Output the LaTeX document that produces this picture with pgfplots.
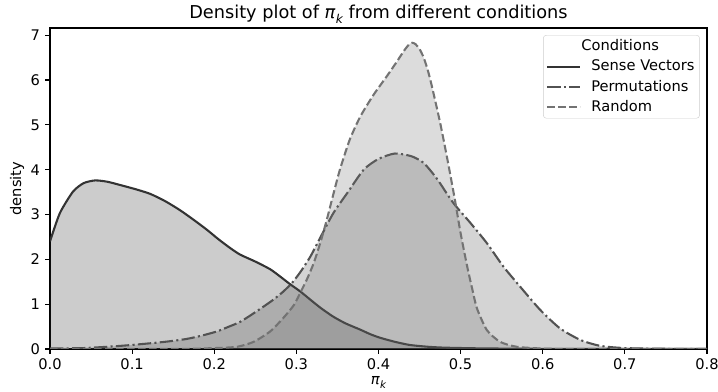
\documentclass[border=0pt]{standalone}
\usepackage{fontspec}
\setmainfont{DejaVu Sans}
\usepackage{pgfplots}
\usepackage{pgfplotstable}
\pgfplotsset{compat=1.18}
\definecolor{csense}{gray}{0.2}
\definecolor{cperm}{gray}{0.32}
\definecolor{crand}{gray}{0.45}
\newcommand{\pik}[1]{\mbox{\itshape π\kern0.03em\raisebox{-0.28em}{\fontsize{#1}{#1}\selectfont k}}}

\pgfplotstableread{
x y
0 2.40
0.012 3.03
0.028 3.51
0.041 3.70
0.055 3.76
0.07 3.73
0.089 3.64
0.105 3.56
0.122 3.46
0.14 3.30
0.158 3.10
0.175 2.88
0.191 2.66
0.205 2.45
0.218 2.27
0.231 2.11
0.25 1.95
0.268 1.78
0.28 1.62
0.292 1.45
0.305 1.28
0.317 1.10
0.33 0.91
0.345 0.72
0.36 0.57
0.378 0.43
0.39 0.33
0.402 0.25
0.42 0.16
0.438 0.09
0.46 0.05
0.48 0.03
0.52 0.015
0.56 0.008
0.6 0.004
0.7 0.001
0.8 0
}\sensetab

\pgfplotstableread{
x y
0 0.01
0.04 0.02
0.07 0.05
0.10 0.09
0.14 0.16
0.165 0.22
0.183 0.29
0.203 0.39
0.218 0.50
0.231 0.60
0.245 0.76
0.258 0.92
0.272 1.10
0.284 1.28
0.295 1.48
0.305 1.72
0.317 2.06
0.329 2.48
0.345 3.03
0.362 3.48
0.382 4.00
0.40 4.24
0.42 4.36
0.44 4.30
0.455 4.15
0.471 3.80
0.491 3.26
0.512 2.81
0.532 2.36
0.552 1.84
0.572 1.40
0.597 0.87
0.621 0.46
0.646 0.20
0.67 0.07
0.70 0.02
0.75 0.005
0.8 0.0
}\permtab

\pgfplotstableread{
x y
0 0
0.15 0.0
0.2 0.02
0.228 0.05
0.248 0.16
0.268 0.39
0.284 0.69
0.297 0.98
0.306 1.30
0.313 1.56
0.321 1.91
0.329 2.36
0.337 2.88
0.345 3.45
0.353 4.00
0.365 4.67
0.378 5.19
0.394 5.67
0.41 6.08
0.422 6.40
0.431 6.65
0.437 6.79
0.441 6.83
0.445 6.80
0.450 6.69
0.455 6.50
0.460 6.22
0.465 5.86
0.475 5.05
0.484 4.22
0.493 3.33
0.500 2.58
0.508 1.84
0.514 1.35
0.52 0.90
0.532 0.42
0.548 0.16
0.568 0.05
0.6 0.01
0.65 0.0
0.8 0.0
}\randtab

\begin{document}
\fontsize{14.7}{17}\selectfont
\begin{tikzpicture}
\begin{axis}[
  name=ax,
  scale only axis, width=657bp, height=321bp,
  xmin=0, xmax=0.8, ymin=0, ymax=7.16,
  xtick={0,0.1,0.2,0.3,0.4,0.5,0.6,0.7,0.8},
  ytick={0,1,2,3,4,5,6,7},
  xticklabel style={/pgf/number format/.cd, fixed, fixed zerofill, precision=1},
  /pgf/number format/assume math mode=true,
  tick pos=left, tick align=outside, major tick length=4.9bp,
  every tick/.style={black, line width=1.1bp},
  axis line style={line width=1.1bp, black},
  ticklabel style={font=\fontsize{14.7}{17}\selectfont},
  title={Density plot of \pik{12.2} from different conditions},
  title style={font=\fontsize{17.8}{20}\selectfont, at={(rel axis cs:0.5,1.025)}, anchor=center},
  xlabel={\pik{10.3}}, ylabel={density},
  every axis x label/.style={at={(rel axis cs:0.5,-0.0704)}, anchor=north, font=\fontsize{14.7}{17}\selectfont},
  every axis y label/.style={at={(rel axis cs:-0.0502,0.5)}, rotate=90, anchor=center, font=\fontsize{14.7}{17}\selectfont},
  legend style={at={(rel axis cs:0.989,0.978)}, anchor=north east, draw=gray!40, fill=white, fill opacity=0.8, text opacity=1, rounded corners=3bp, font=\fontsize{14.7}{17}\selectfont, row sep=3bp, inner xsep=3bp, inner ysep=2.5bp,
    /tikz/every odd column/.append style={column sep=8bp}},
  legend cell align=left,
  legend image code/.code={\draw[#1] (0bp,0bp) -- (33bp,0bp);},
]
\addlegendimage{empty legend}
\addlegendentry{\hspace*{-10bp}Conditions}

\addplot[draw=none, fill=csense, fill opacity=0.25, smooth, tension=0.4, forget plot] table {\sensetab} \closedcycle;
\addplot[csense, line width=2.08bp, smooth, tension=0.4] table {\sensetab};
\addlegendentry{Sense Vectors}

\addplot[draw=none, fill=cperm, fill opacity=0.25, smooth, tension=0.4, forget plot] table {\permtab} \closedcycle;
\addplot[cperm, line width=2.08bp, smooth, tension=0.4, dash pattern=on 13.3bp off 3.3bp on 2.1bp off 3.3bp] table {\permtab};
\addlegendentry{Permutations}

\addplot[draw=none, fill=crand, fill opacity=0.25, smooth, tension=0.4, forget plot] table {\randtab} \closedcycle;
\addplot[crand, line width=2.08bp, smooth, tension=0.4, dash pattern=on 7.7bp off 3.3bp] table {\randtab};
\addlegendentry{Random}
\end{axis}
\pgfresetboundingbox
\path ([shift={(-50bp,-43bp)}]ax.south west) rectangle ([shift={(11bp,28bp)}]ax.north east);
\end{tikzpicture}
\end{document}
